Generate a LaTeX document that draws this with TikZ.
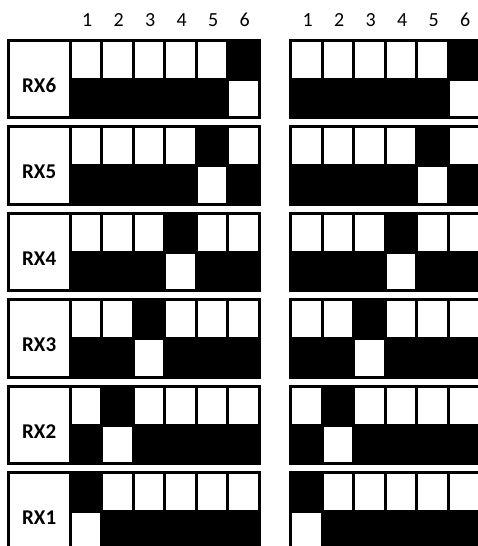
\documentclass[tikz,border=0pt]{standalone}
\usepackage{fontspec}
\setmainfont{Carlito}
\usetikzlibrary{positioning}
\definecolor{ink}{RGB}{0,0,0}
\definecolor{paper}{RGB}{255,255,255}
\tikzset{
  every picture/.style={x=1pt, y=-1pt, color=ink},
  cell/.style={draw=ink, line width=3pt, inner sep=0pt, outer sep=0pt, minimum width=31.5pt, minimum height=38.75pt},
  lit/.style={cell, fill=ink},
  unlit/.style={cell, fill=paper},
  tag/.style={draw=ink, line width=3pt, fill=paper, inner sep=0pt, minimum width=61.7pt, minimum height=77.5pt},
  num/.style={font=\fontsize{20}{22}\selectfont, inner sep=0pt},
  rx/.style={font=\fontsize{21}{23}\selectfont\bfseries, inner sep=0pt},
}

\begin{document}
\begin{tikzpicture}
  \path[use as bounding box, clip] (0,0) rectangle (478,546);
  % column numbers over both groups
  \foreach \g/\xs in {L/70,R/290.5}{
    \foreach \c in {1,...,6}{
      \node[num] (\g num\c) at ({\xs+1.5+31.5*(\c-0.5)},20) {\c};
    }
  }
  % one block per receiver, RX6 on top
  \foreach \k in {0,...,5}{
    \pgfmathtruncatemacro{\n}{6-\k}
    \pgfmathsetmacro{\yt}{40.3+86.5*\k}
    \node[tag] (box\n) at (39.15,\yt+38.75) {};
    \node[rx] (rx\n) at (39.15,\yt+45) {RX\n};
    \foreach \g/\xs in {L/70,R/290.5}{
      \foreach \c in {1,...,6}{
        \ifnum\c=\n \def\up{lit}\def\dn{unlit}\else \def\up{unlit}\def\dn{lit}\fi
        \node[\up] (\g\n-\c-up) at ({\xs+31.5*(\c-0.5)},\yt+19.375) {};
        \node[\dn] (\g\n-\c-dn) at ({\xs+31.5*(\c-0.5)},\yt+58.125) {};
      }
    }
  }
\end{tikzpicture}
\end{document}
